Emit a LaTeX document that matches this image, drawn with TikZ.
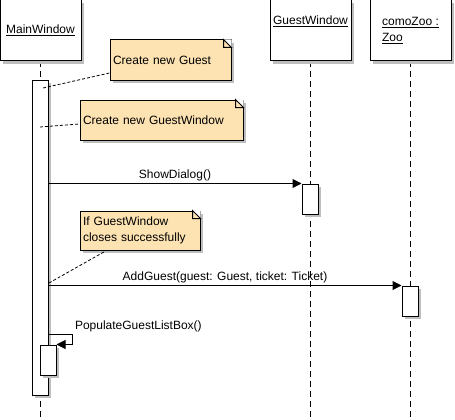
\documentclass[tikz,border=0pt]{standalone}
\usepackage{fontspec}
\setmainfont{Liberation Sans}
\usetikzlibrary{arrows.meta,shadows}

\definecolor{noteFill}{RGB}{253,226,178}
\definecolor{shadowGrey}{RGB}{190,190,190}

% folded corner of a note
\newcommand\notefold[1]{%
  \fill[white] ([xshift=-8pt]#1.north east) -- (#1.north east) -- ([yshift=-8pt]#1.north east) -- cycle;
  \draw ([xshift=-8pt]#1.north east) -- ([xshift=-8pt,yshift=-8pt]#1.north east)
        -- ([yshift=-8pt]#1.north east) -- cycle;}

\begin{document}
\begin{tikzpicture}[x=1pt, y=-1pt, line width=1pt,
   font=\fontsize{12pt}{16pt}\selectfont,
   shade/.style={drop shadow={shadow xshift=3pt, shadow yshift=-3pt,
             fill=shadowGrey, opacity=1}},
   obj/.style={draw, fill=white, shade, minimum width=81pt, minimum height=61pt,
             inner sep=0pt, align=left},
   act/.style={draw, fill=white, shade, minimum width=16pt, inner sep=0pt},
   note/.style={draw, fill=noteFill, shade, inner sep=3pt, align=left},
   life/.style={dash pattern=on 6pt off 4pt},
   link/.style={line width=0.8pt, dash pattern=on 3pt off 2pt},
   msg/.style={-{Triangle[length=9pt,width=9pt]}},
   lbl/.style={inner sep=2pt}]

  \useasboundingbox (0,0) rectangle (455,420);

  % ===== lifelines =====
  \draw[life] (40,61) -- (40,420);
  \draw[life] (310,61) -- (310,420);
  \draw[life] (410,61) -- (410,420);

  % ===== objects =====
  \node[obj] (mainwin) at (40.5,30.5) {\underline{MainWindow}};
  \node[obj] (guestwin) at (310.5,30.5) {\underline{GuestWindow}\\ \strut};
  \node[obj] (zoo) at (410.5,30.5) {\underline{comoZoo :}\\\underline{Zoo}};

  % ===== activations =====
  \node[act, minimum height=315pt] (mainact) at (40,237.5) {};
  \node[act, minimum height=30pt] (guestact) at (310,199) {};
  \node[act, minimum height=30pt] (zooact) at (410,301) {};
  \node[act, minimum height=30pt] (selfact) at (48,360) {};

  % ===== notes =====
  \node[note, text width=115pt, minimum height=40pt] (noteguest) at (170.5,60) {Create new Guest};
  \node[note, text width=157pt, minimum height=40pt] (notewin) at (161.5,120) {Create new GuestWindow};
  \node[note, text width=114pt, minimum height=39pt] (noteif) at (140,230.5)
        {If GuestWindow\\closes successfully};
  \notefold{noteguest}
  \notefold{notewin}
  \notefold{noteif}

  \coordinate (a1) at (43,88);
  \coordinate (a2) at (40,127);
  \coordinate (a3) at (49,283);
  \draw[link] (a1) -- ([yshift=-13pt]noteguest.west);
  \draw[link] (a2) -- ([yshift=-4pt]notewin.west);
  \draw[link] (a3) -- ([xshift=27pt]noteif.south west);

  % ===== messages =====
  \draw[msg] (mainact.east |- guestact.north west) -- (guestact.north west)
        node[lbl, midway, above] {ShowDialog()};
  \draw[msg] (mainact.east |- zooact.north west) -- (zooact.north west)
        node[lbl, midway, above] {AddGuest(guest: Guest, ticket: Ticket)};
  \draw[msg] ([yshift=10pt]selfact.north east -| mainact.east) -- ++(24,0)
        node[lbl, above right] {PopulateGuestListBox()} |- (selfact.north east);

\end{tikzpicture}
\end{document}
